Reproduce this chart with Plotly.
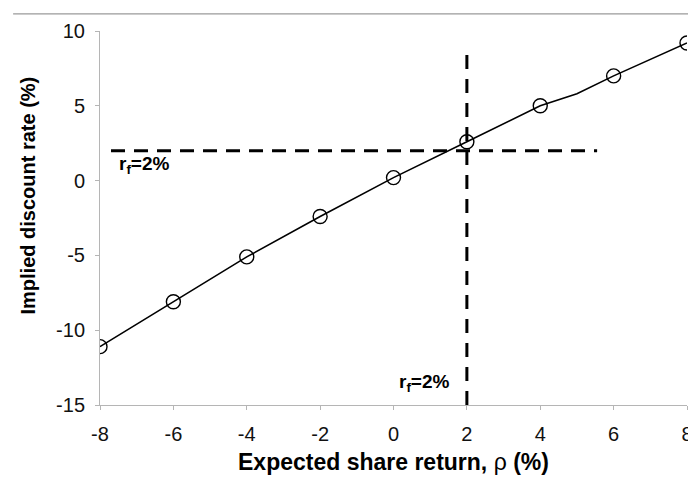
import plotly.graph_objects as go

# Expected share return (%) and implied discount rate (%)
rho = [-8, -6, -4, -2, 0, 2, 4, 5, 6, 8]
implied_rate = [-11.1, -8.1, -5.1, -2.4, 0.2, 2.6, 5.0, 5.8, 7.0, 9.2]

# Marked observations (every 2 percentage points)
rho_marked = [-8, -6, -4, -2, 0, 2, 4, 6, 8]
implied_marked = [-11.1, -8.1, -5.1, -2.4, 0.2, 2.6, 5.0, 7.0, 9.2]

# Risk-free rate reference lines
rf = 2.0
rf_hline_x = [-7.7, 5.55]
rf_vline_y = [-15, 8.6]

x_ticks = [-8, -6, -4, -2, 0, 2, 4, 6, 8]
y_ticks = [-15, -10, -5, 0, 5, 10]
x_tick_text = [str(v) for v in x_ticks]
y_tick_text = [str(v) for v in y_ticks]

FONT = "Liberation Sans, Arial, sans-serif"

fig = go.Figure()

fig.add_trace(go.Scatter(
    x=rho, y=implied_rate, mode="lines",
    line=dict(color="black", width=1.6),
    hoverinfo="skip", showlegend=False,
))
fig.add_trace(go.Scatter(
    x=rho_marked, y=implied_marked, mode="markers",
    marker=dict(symbol="circle-open", size=14, color="black",
                line=dict(width=1.4, color="black")),
    showlegend=False,
))
fig.add_trace(go.Scatter(
    x=rf_hline_x, y=[rf, rf], mode="lines",
    line=dict(color="black", width=3, dash="14px,9px"),
    hoverinfo="skip", showlegend=False,
))
fig.add_trace(go.Scatter(
    x=[rf, rf], y=rf_vline_y, mode="lines",
    line=dict(color="black", width=3, dash="14px,10px"),
    hoverinfo="skip", showlegend=False,
))

label = "<b>r<sub>f</sub>=2%</b>"
annotations = [
    dict(x=-7.55, y=1.05, xref="x", yref="y", text=label, showarrow=False,
         xanchor="left", yanchor="middle", font=dict(family=FONT, size=19, color="black")),
    dict(x=1.6, y=-13.5, xref="x", yref="y", text=label, showarrow=False,
         xanchor="right", yanchor="middle", font=dict(family=FONT, size=19, color="black")),
    dict(x=0.5, y=-0.152, xref="paper", yref="paper",
         text="<b>Expected share return, </b>ρ<b> (%)</b>", showarrow=False,
         xanchor="center", yanchor="middle", font=dict(family=FONT, size=23, color="black")),
    dict(x=-0.1227, y=0.56, xref="paper", yref="paper",
         text="<b>Implied discount rate (%)</b>", showarrow=False, textangle=-90,
         xanchor="center", yanchor="middle", font=dict(family=FONT, size=20, color="black")),
]

axis_common = dict(
    showgrid=False, zeroline=False, showline=True,
    linecolor="#b5b5b5", linewidth=1,
    ticks="outside", ticklen=4, tickcolor="#b5b5b5", tickwidth=1,
    tickfont=dict(family=FONT, size=20, color="#111111"),
    ticklabeloverflow="allow", automargin=False,
)

fig.update_layout(
    width=688, height=478,
    margin=dict(l=100, r=1, t=31, b=73, autoexpand=False),
    paper_bgcolor="white", plot_bgcolor="white",
    xaxis=dict(range=[-8, 8], tickvals=x_ticks, ticktext=x_tick_text,
               ticklabelstandoff=7, **axis_common),
    yaxis=dict(range=[-15, 10], tickvals=y_ticks, ticktext=y_tick_text,
               ticklabelstandoff=6, **axis_common),
    annotations=annotations,
    shapes=[dict(type="line", xref="paper", yref="paper", layer="above",
                 x0=-0.148, x1=1.01, y0=1.046, y1=1.046,
                 line=dict(color="#9a9a9a", width=1.2))],
)

fig.write_html("out.html")
